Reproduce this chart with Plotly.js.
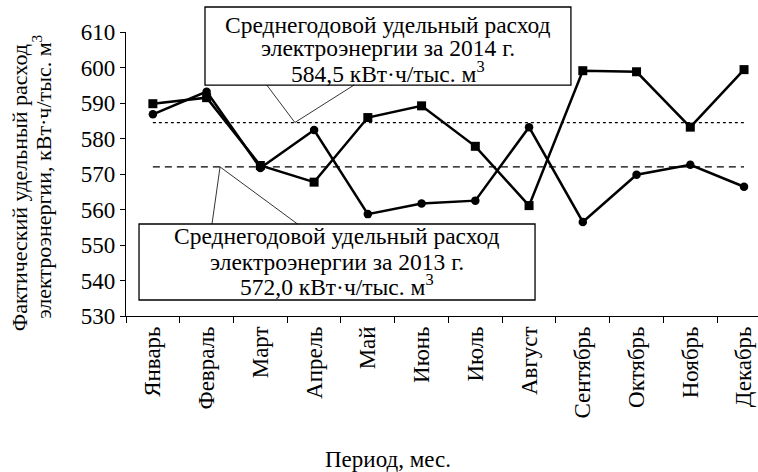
<!DOCTYPE html>
<html>
<head>
<meta charset="utf-8">
<script src="https://cdn.plot.ly/plotly-3.0.1.min.js"></script>
<style>html,body{margin:0;padding:0;background:#fff;}#chart{width:758px;height:472px;}</style>
</head>
<body>
<div id="chart"></div>
<script>
var months = ['Январь','Февраль','Март','Апрель','Май','Июнь','Июль','Август','Сентябрь','Октябрь','Ноябрь','Декабрь'];
var y2014 = [589.8, 591.5, 572.4, 567.7, 585.9, 589.2, 577.8, 561.1, 599.1, 598.8, 583.2, 599.4];
var y2013 = [586.8, 593.2, 571.7, 582.4, 558.7, 561.7, 562.5, 583.2, 556.5, 569.8, 572.6, 566.4];
var avg2014 = 584.5;
var avg2013 = 572.0;
var yTicks = [530, 540, 550, 560, 570, 580, 590, 600, 610];

var FONT = '"Liberation Serif", "Times New Roman", serif';

var traces = [
  {x: months, y: months.map(function(){return avg2014;}), mode: 'lines', type: 'scatter',
   line: {color: '#000', width: 1.3, dash: '3px,3px'}, hoverinfo: 'skip'},
  {x: months, y: months.map(function(){return avg2013;}), mode: 'lines', type: 'scatter',
   line: {color: '#000', width: 1.3, dash: '7px,5px'}, hoverinfo: 'skip'},
  {x: months, y: y2013, mode: 'lines+markers', type: 'scatter',
   line: {color: '#000', width: 2.5}, marker: {symbol: 'circle', size: 8.5, color: '#000'}},
  {x: months, y: y2014, mode: 'lines+markers', type: 'scatter',
   line: {color: '#000', width: 2.5}, marker: {symbol: 'square', size: 9, color: '#000'}}
];

function ann(text, x, y, size) {
  return {text: text, x: x, y: y, xref: 'paper', yref: 'paper', showarrow: false,
          xanchor: 'center', yanchor: 'middle', font: {family: FONT, size: size, color: '#000'}};
}

var BOX = 23.5;
var annotations = [
  ann('Среднегодовой удельный расход', 0.4146, 1.0246, BOX),
  ann('электроэнергии за 2014 г.', 0.4146, 0.9437, BOX),
  ann('584,5 кВт·ч/тыс. м<sup>3</sup>', 0.4146, 0.8592, BOX),
  ann('Среднегодовой удельный расход', 0.3339, 0.2817, BOX),
  ann('электроэнергии за 2013 г.', 0.3339, 0.1901, BOX),
  ann('572,0 кВт·ч/тыс. м<sup>3</sup>', 0.3339, 0.1092, BOX),
  ann('Период, мес.', 0.4146, -0.507, 23),
  {text: 'Фактический удельный расход', x: 0, y: 0.45,
   xref: 'paper', yref: 'paper', xshift: -107, showarrow: false, textangle: -90,
   xanchor: 'center', yanchor: 'middle', font: {family: FONT, size: 22, color: '#000'}},
  {text: 'электроэнергии, кВт·ч/тыс. м<sup>3</sup>', x: 0, y: 0.49,
   xref: 'paper', yref: 'paper', xshift: -84, showarrow: false, textangle: -90,
   xanchor: 'center', yanchor: 'middle', font: {family: FONT, size: 22, color: '#000'}}
];

var shapes = [
  {type: 'rect', xref: 'paper', yref: 'paper', x0: 0.125, x1: 0.704, y0: 0.813, y1: 1.088,
   line: {color: '#000', width: 1.3}, fillcolor: '#fff', layer: 'below'},
  {type: 'rect', xref: 'paper', yref: 'paper', x0: 0.0206, x1: 0.6472, y0: 0.0563, y1: 0.3239,
   line: {color: '#000', width: 1.3}, fillcolor: '#fff', layer: 'below'},
  {type: 'path', xref: 'x', yref: 'y', path: 'M 2.119 595.07 L 2.642 584.5 L 3.745 595.07',
   line: {color: '#000', width: 0.8}},
  {type: 'path', xref: 'x', yref: 'y', path: 'M 1.10 555.9 L 1.25 572.0 L 2.693 555.9',
   line: {color: '#000', width: 0.8}}
];

var layout = {
  width: 758, height: 472,
  margin: {l: 126, r: 0, t: 32, b: 156, pad: 0},
  paper_bgcolor: '#fff', plot_bgcolor: 'rgba(0,0,0,0)',
  showlegend: false,
  font: {family: FONT, size: 22, color: '#000'},
  xaxis: {type: 'category', range: [-0.5, 11.26], tickson: 'boundaries', ticks: 'outside', ticklen: 6,
          tickcolor: '#000', tickwidth: 1, showline: true, linecolor: '#000', linewidth: 1.2,
          showgrid: false, zeroline: false, tickangle: -90, automargin: false,
          tickfont: {family: FONT, size: 23, color: '#000'}},
  yaxis: {range: [530, 610], tickvals: yTicks, ticktext: yTicks.map(String), ticks: 'outside', ticklen: 5,
          tickcolor: '#000', tickwidth: 1, showline: true, linecolor: '#000', linewidth: 1.2,
          showgrid: false, zeroline: false, automargin: false,
          tickfont: {family: FONT, size: 23, color: '#000'}},
  annotations: annotations,
  shapes: shapes
};

Plotly.newPlot('chart', traces, layout, {staticPlot: true, displayModeBar: false});
</script>
</body>
</html>
